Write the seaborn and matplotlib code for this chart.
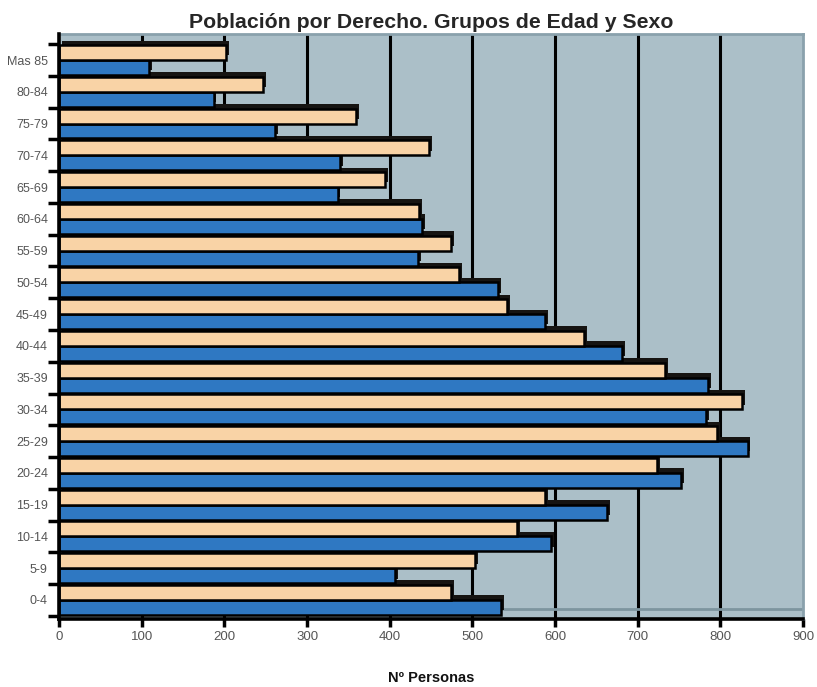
import pandas as pd
import numpy as np
import matplotlib
matplotlib.use('Agg')
import matplotlib.pyplot as plt
import matplotlib.patheffects as pe
from matplotlib.ticker import FixedLocator
import seaborn as sns

# Datos (de arriba abajo)
grupos = ['Mas 85', '80-84', '75-79', '70-74', '65-69', '60-64', '55-59', '50-54', '45-49',
          '40-44', '35-39', '30-34', '25-29', '20-24', '15-19', '10-14', '5-9', '0-4']
mujeres = [202, 247, 359, 448, 394, 436, 474, 484, 542, 635, 733, 826, 796, 723, 588, 554, 503, 474]
hombres = [109, 187, 261, 340, 337, 439, 434, 531, 588, 681, 785, 783, 833, 752, 663, 595, 407, 535]
x_ticks = [0, 100, 200, 300, 400, 500, 600, 700, 800, 900]

data = pd.DataFrame({
    'Grupo': grupos * 2,
    'Sexo': ['Mujeres'] * len(grupos) + ['Hombres'] * len(grupos),
    'Personas': mujeres + hombres,
})

sns.set_theme(style='white')
plt.rcParams['font.family'] = ['Liberation Sans', 'DejaVu Sans']

fig = plt.figure(figsize=(8.17, 6.87), dpi=100)
ax = fig.add_axes([0.0722, 0.099, 0.9108, 0.8515])
ax.set_facecolor('#abbfc8')

sns.barplot(data=data, y='Grupo', x='Personas', hue='Sexo', order=grupos,
            hue_order=['Mujeres', 'Hombres'], palette=['#f9d3a6', '#2f78c2'],
            orient='h', width=0.94, gap=0, saturation=1, edgecolor='black',
            linewidth=1.8, legend=False, ax=ax)

# efecto 3D: sombra negra arriba a la derecha, las barras de arriba tapan a las de abajo
for p in ax.patches:
    p.set_zorder(3 - 0.01 * p.get_y())
    p.set_path_effects([pe.SimplePatchShadow(offset=(2, 3.3), shadow_rgbFace='#161412', alpha=1.0),
                        pe.Normal()])

ax.set_xlim(0, 900)
ax.set_ylim(17.6, -0.82)
ax.set_xticks(x_ticks)
ax.set_xticklabels([str(v) for v in x_ticks])

# suelo del grafico
ax.axhline(17.28, color='#7d959f', linewidth=2, zorder=0.6)

ax.set_axisbelow(True)
ax.xaxis.grid(True, color='black', linewidth=2.2)
ax.yaxis.grid(False)
ax.get_xgridlines()[-1].set_visible(False)
ax.get_xgridlines()[0].set_visible(False)

ax.yaxis.set_minor_locator(FixedLocator(np.arange(-0.5, 18, 1)))
ax.tick_params(axis='y', which='major', length=0, pad=8, labelsize=9, labelcolor='#555555')
ax.tick_params(axis='y', which='minor', left=True, length=8, width=2.5, color='black')
ax.tick_params(axis='x', which='major', bottom=True, length=6, width=2.5, color='black',
               pad=3, labelsize=9.5, labelcolor='#555555')

for side in ['left', 'bottom']:
    ax.spines[side].set_color('black')
    ax.spines[side].set_linewidth(2.6)
    ax.spines[side].set_zorder(5)
for side in ['top', 'right']:
    ax.spines[side].set_color('#8aa1ac')
    ax.spines[side].set_linewidth(2)

ax.set_ylabel('')
ax.set_xlabel('Nº Personas', fontsize=10.5, fontweight='bold', labelpad=20, color='#111111')
ax.set_title('Población por Derecho. Grupos de Edad y Sexo', fontsize=15.3,
             fontweight='bold', pad=4)

fig.savefig('out.png', dpi=100)
